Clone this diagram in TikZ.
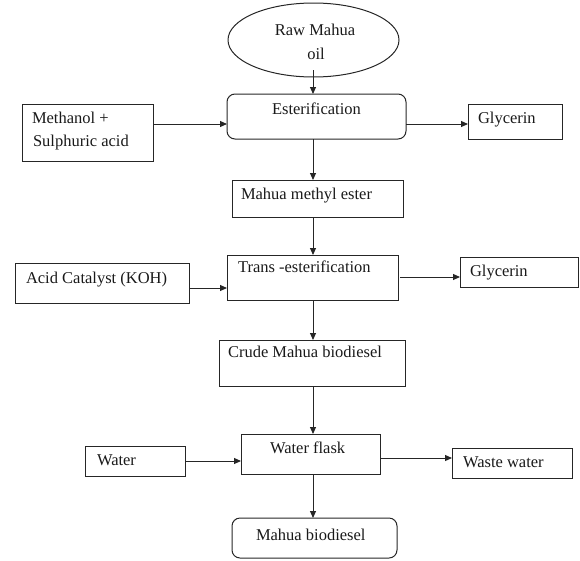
\documentclass[tikz,border=0pt]{standalone}
\usepackage{fontspec}
\setmainfont{Liberation Serif}
\usetikzlibrary{arrows.meta,shapes.geometric}
\tikzset{
  box/.style={draw=black!85, line width=1pt, inner sep=0pt, outer sep=0pt, anchor=north west},
  rbox/.style={box, rounded corners=8pt},
  txt/.style={inner sep=0pt, outer sep=0pt, anchor=mid west, text=black!90, yshift=-2pt,
    font=\fontsize{16.5}{20}\selectfont},
  ctxt/.style={txt, anchor=mid},
  arr/.style={draw=black!85, line width=1pt, -{Triangle[length=7pt,width=6pt]}}
}
\begin{document}
\begin{tikzpicture}[x=1pt,y=-1pt]
\useasboundingbox (0,0) rectangle (580,560);
% boxes
\node[draw=black!85, line width=1pt, ellipse, inner sep=0pt, outer sep=0pt,
      minimum width=171pt, minimum height=74pt] (raw) at (313.5,40) {};
\node[rbox, minimum width=179pt, minimum height=45pt] (ester) at (227,94) {};
\node[box, minimum width=131pt, minimum height=57pt] (meth) at (22,104) {};
\node[box, minimum width=94pt, minimum height=35pt] (gly1) at (468,104) {};
\node[box, minimum width=171pt, minimum height=37pt] (mme) at (232,180) {};
\node[box, minimum width=171pt, minimum height=45pt] (trans) at (227,255) {};
\node[box, minimum width=174pt, minimum height=40pt] (acid) at (15,263) {};
\node[box, minimum width=118pt, minimum height=30pt] (gly2) at (460,257) {};
\node[box, minimum width=186pt, minimum height=46pt] (crude) at (219,340) {};
\node[box, minimum width=139pt, minimum height=40pt] (flask) at (241,434) {};
\node[box, minimum width=100pt, minimum height=30pt] (water) at (85,446) {};
\node[box, minimum width=120pt, minimum height=30pt] (waste) at (452,448) {};
\node[rbox, minimum width=165pt, minimum height=40pt] (bio) at (232,518) {};
% texts
\node[ctxt] (rawT1) at (315,31) {Raw Mahua};
\node[ctxt] (rawT2) at (316,55) {oil};
\node[txt] (esterT) at (272,110) {Esterification};
\node[txt] (methT1) at (32,119) {Methanol +};
\node[txt] (methT2) at (33,142) {Sulphuric acid};
\node[txt] (gly1T) at (478,119) {Glycerin};
\node[txt] (mmeT) at (241,195) {Mahua methyl ester};
\node[txt] (transT) at (238,268) {Trans -esterification};
\node[txt] (acidT) at (26,279) {Acid Catalyst (KOH)};
\node[txt] (gly2T) at (470,272) {Glycerin};
\node[txt] (crudeT) at (228,353) {Crude Mahua biodiesel};
\node[txt] (flaskT) at (270,449) {Water flask};
\node[txt] (waterT) at (97,461) {Water};
\node[txt] (wasteT) at (463,463) {Waste water};
\node[txt] (bioT) at (256,536) {Mahua biodiesel};
% connector guides
\coordinate (cx) at (313,0);
\coordinate (rawin) at (313,70);
\coordinate (r1) at (0,124);
\coordinate (r2) at (0,288);
\coordinate (r3) at (0,277);
\coordinate (r4) at (0,461);
\coordinate (r5) at (0,458);
% connectors
\draw[arr] (rawin) -- (ester.north -| cx);
\draw[arr] (meth.east |- r1) -- (ester.west |- r1);
\draw[arr] (ester.east |- r1) -- (gly1.west |- r1);
\draw[arr] (ester.south -| cx) -- (mme.north -| cx);
\draw[arr] (mme.south -| cx) -- (trans.north -| cx);
\draw[arr] (acid.east |- r2) -- (trans.west |- r2);
\draw[arr] ([xshift=2pt]trans.east |- r3) -- (gly2.west |- r3);
\draw[arr] (trans.south -| cx) -- (crude.north -| cx);
\draw[arr] (crude.south -| cx) -- (flask.north -| cx);
\draw[arr] (water.east |- r4) -- (flask.west |- r4);
\draw[arr] (flask.east |- r5) -- (waste.west |- r5);
\draw[arr] (flask.south -| cx) -- (bio.north -| cx);
\end{tikzpicture}
\end{document}
